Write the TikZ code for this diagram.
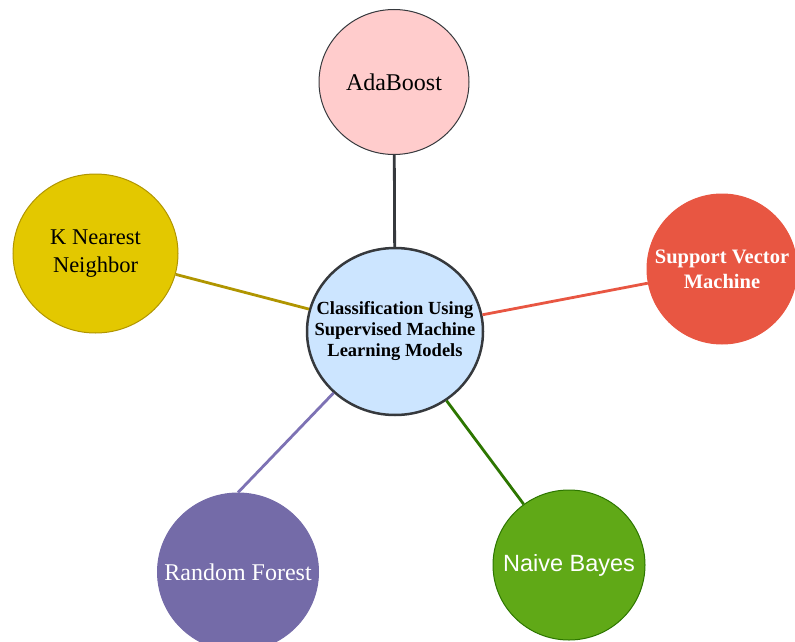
\documentclass[tikz,border=0pt]{standalone}
\usepackage{fontspec}
\setmainfont{Liberation Serif}
\newfontfamily\arialfont{Liberation Sans}
\usetikzlibrary{shapes.geometric}
\definecolor{cblue}{HTML}{CCE5FF}
\definecolor{cdark}{HTML}{36393D}
\definecolor{cpink}{HTML}{FFCCCC}
\definecolor{cyel}{HTML}{E3C800}
\definecolor{cyelb}{HTML}{B09500}
\definecolor{cred}{HTML}{E85642}
\definecolor{cgreen}{HTML}{60A917}
\definecolor{cgreenb}{HTML}{2D7600}
\definecolor{cpurp}{HTML}{746BA8}
\definecolor{cpurpl}{HTML}{7D72B4}
\tikzset{
  bubble/.style={ellipse, inner sep=0pt, line width=1pt},
  txt/.style={align=center, inner sep=0pt},
  link/.style={line width=2.8pt}
}
\begin{document}
\begin{tikzpicture}[x=1pt,y=-1pt]
\useasboundingbox (0,0) rectangle (795,642);
\node[bubble, draw=cdark, line width=2.5pt, fill=cblue, minimum width=176pt, minimum height=167pt] (c) at (395,331.5) {};
\node[txt, font=\fontsize{18.5}{21}\selectfont\bfseries, text=black] (ct) at (c.center)
  {Classification Using\\Supervised Machine\\Learning Models};
\node[bubble, draw=cdark, fill=cpink, minimum width=150pt, minimum height=145pt] (ada) at (394,82) {};
\node[txt, font=\fontsize{24}{28}\selectfont, text=black] (adat) at (ada.center) {AdaBoost};
\node[bubble, draw=cyelb, fill=cyel, minimum width=165pt, minimum height=159pt] (knn) at (95.5,253.5) {};
\node[txt, font=\fontsize{22.5}{28}\selectfont, text=black] (knnt) at (knn.center) {K Nearest\\Neighbor};
\node[bubble, draw=cred, fill=cred, minimum width=150pt, minimum height=150pt] (svm) at (722,269) {};
\node[txt, font=\fontsize{20.5}{25}\selectfont\bfseries, text=white] (svmt) at (svm.center) {Support Vector\\Machine};
\node[bubble, draw=cgreenb, fill=cgreen, minimum width=152pt, minimum height=150pt] (nb) at (569,565) {};
\node[txt, font=\arialfont\fontsize{23.5}{27}\selectfont, text=white] (nbt) at (nb.center) {Naive Bayes};
\node[bubble, draw=cpurp, fill=cpurp, minimum width=161pt, minimum height=158pt] (rf) at (238,572) {};
\node[txt, font=\fontsize{24}{27}\selectfont, text=white] (rft) at (rf.center) {Random Forest};
\draw[link, draw=cdark] (c) -- (ada);
\draw[link, draw=cyelb] (c) -- (knn);
\draw[link, draw=cred] (c) -- (svm);
\draw[link, draw=cgreenb] (c) -- (nb);
\draw[link, draw=cpurpl] (c.225) -- (rf.north);
\end{tikzpicture}
\end{document}
